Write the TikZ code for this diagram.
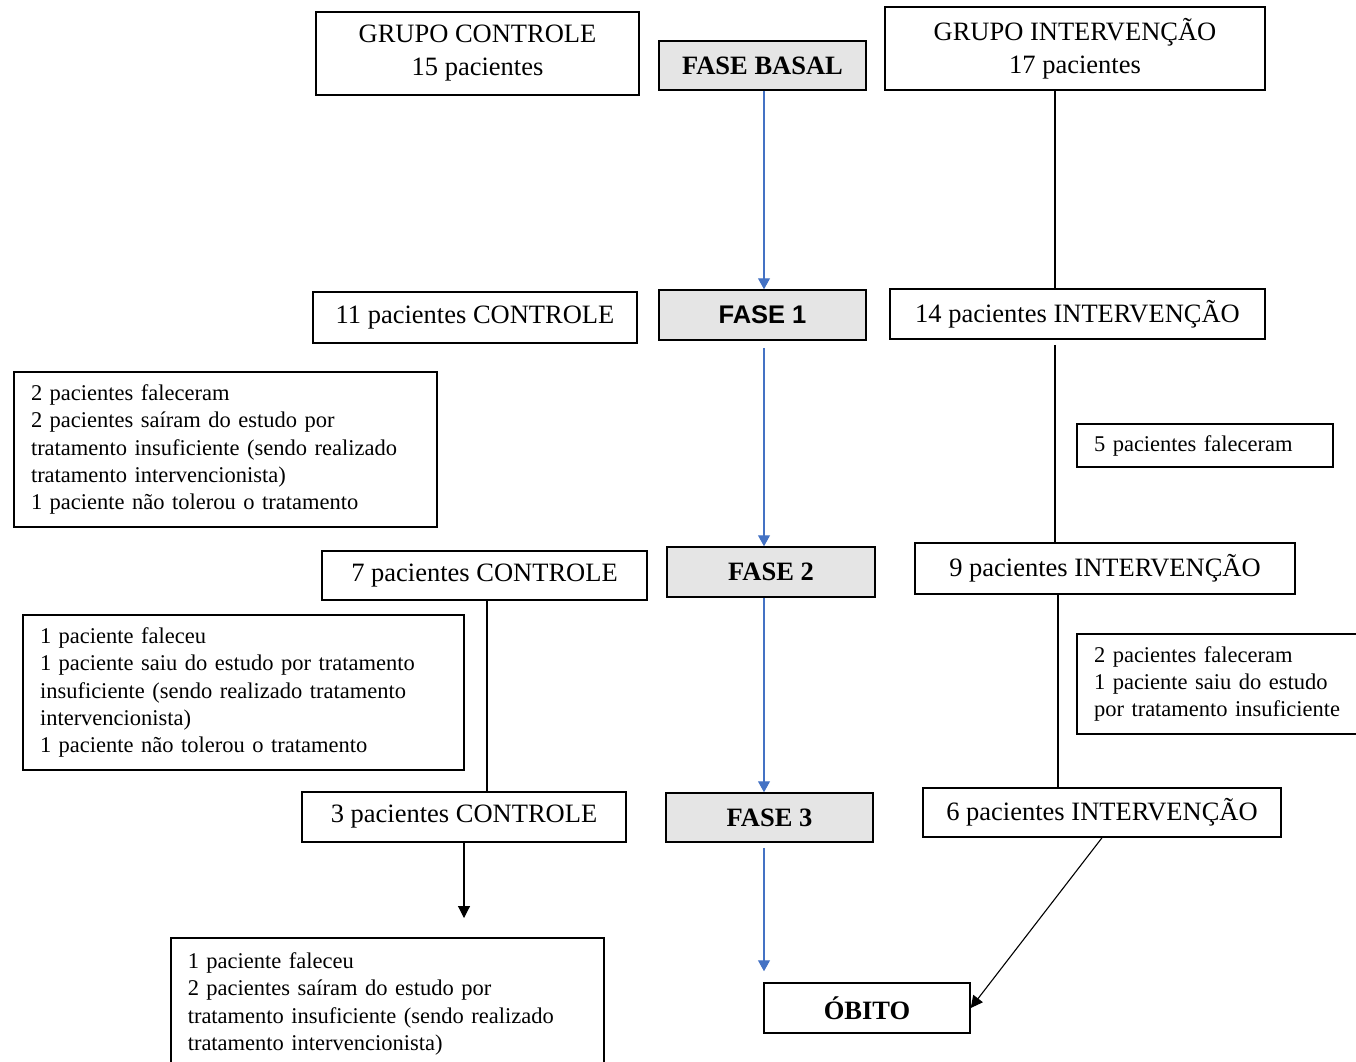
\documentclass[tikz,border=0pt]{standalone}
\usepackage{fontspec}
\setmainfont{Liberation Serif}
\newfontfamily\arialfont{Liberation Sans}
\usepackage{tikz}
\usetikzlibrary{calc}
\usetikzlibrary{arrows.meta}
\definecolor{setaazul}{HTML}{4472C4}
\newcommand{\txtgrande}{\fontsize{26.5}{33}\selectfont}
\newcommand{\txtnota}{\fontsize{22.5}{27.4}\selectfont}
\tikzstyle{caixa}=[draw, line width=1.5pt, inner sep=0pt, font=\txtgrande]
\tikzstyle{fase}=[caixa, fill=black!10, font=\txtgrande\bfseries]
\tikzstyle{nota}=[draw, line width=1.5pt, inner xsep=17pt, inner ysep=0pt, align=left, font=\txtnota]
\tikzstyle{azul}=[draw=setaazul, line width=1.1pt, -{Triangle[width=12pt,length=11pt]}]
\tikzstyle{preta}=[line width=1.5pt]
\tikzstyle{pretaseta}=[line width=1.1pt, -{Triangle[width=12pt,length=12pt]}]

\begin{document}
\begin{tikzpicture}[x=1pt, y=-1pt]
                \useasboundingbox (0,0) rectangle (1356,1061);
                \clip (0,0) rectangle (1356,1061);

                % coluna do meio
                \node[fase, minimum width=207pt, minimum height=49pt] (basal) at (762.5,65.5) {FASE BASAL};
                \node[fase, minimum width=207pt, minimum height=50pt, font=\arialfont\fontsize{25.5}{30}\selectfont\bfseries] (fase1) at (762.5,315) {FASE 1};
                \node[fase, minimum width=208pt, minimum height=50pt] (fase2) at (771,572) {FASE 2};
                \node[fase, minimum width=207pt, minimum height=49pt] (fase3) at (769.5,817.5) {FASE 3};
                \node[caixa, minimum width=206pt, minimum height=50pt, font=\txtgrande\bfseries] (obito) at (867,1008) {ÓBITO};

                % grupo controle
                \node[caixa, minimum width=323pt, minimum height=83pt, align=center] (grupoC) at (477.5,53.5) {GRUPO CONTROLE\\15 pacientes};
                \node[caixa, minimum width=324pt, minimum height=51pt] (c1) at (475,317.5) {11 pacientes CONTROLE};
                \node[caixa, minimum width=325pt, minimum height=49pt] (c2) at (484.5,575.5) {7 pacientes CONTROLE};
                \node[caixa, minimum width=324pt, minimum height=50pt] (c3) at (464,817) {3 pacientes CONTROLE};

                \node[nota, text width=389pt, minimum height=155pt] (notaC1) at (225.5,449.5) {2 pacientes faleceram\\2 pacientes saíram do estudo por\\tratamento insuficiente (sendo realizado\\tratamento intervencionista)\\1 paciente não tolerou o tratamento};
                \node[nota, text width=407pt, minimum height=155pt] (notaC2) at (243.5,692.5) {1 paciente faleceu\\1 paciente saiu do estudo por tratamento\\insuficiente (sendo realizado tratamento\\intervencionista)\\1 paciente não tolerou o tratamento};
                \node[nota, text width=399pt, minimum height=155pt, anchor=north west] (notaC3) at (170,937) {1 paciente faleceu\\2 pacientes saíram do estudo por\\tratamento insuficiente (sendo realizado\\tratamento intervencionista)\\\mbox{}};

                % grupo intervencao
                \node[caixa, minimum width=380pt, minimum height=83pt, align=center] (grupoI) at (1075,48.5) {GRUPO INTERVENÇÃO\\17 pacientes};
                \node[caixa, minimum width=375pt, minimum height=50pt] (i1) at (1077.5,314) {14 pacientes INTERVENÇÃO};
                \node[caixa, minimum width=380pt, minimum height=51pt] (i2) at (1105,568.5) {9 pacientes INTERVENÇÃO};
                \node[caixa, minimum width=358pt, minimum height=49pt] (i3) at (1102,812.5) {6 pacientes INTERVENÇÃO};

                \node[nota, text width=222pt, minimum height=43pt] (notaI1) at (1205,445.5) {5 pacientes faleceram};
                \node[nota, text width=269pt, minimum height=100pt] (notaI2) at (1228.5,684) {2 pacientes faleceram\\1 paciente saiu do estudo\\por tratamento insuficiente};

                % linhas
                \coordinate (xm) at (764,0);
                \coordinate (xi) at (1055,0);
                \coordinate (xj) at (1058,0);
                \coordinate (xc) at (487,0);
                \coordinate (fimC) at (464,918);

                \draw[azul] (basal.south -| xm) -- (fase1.north -| xm);
                \draw[azul, shorten <=7pt] (fase1.south -| xm) -- (fase2.north -| xm);
                \draw[azul] (fase2.south -| xm) -- (fase3.north -| xm);
                \draw[azul, shorten <=5pt, shorten >=11pt] (fase3.south -| xm) -- (obito.north -| xm);

                \draw[preta] (grupoI.south -| xi) -- (i1.north -| xi);
                \draw[preta, shorten <=5pt] (i1.south -| xi) -- (i2.north -| xi);
                \draw[preta] (i2.south -| xj) -- (i3.north -| xj);
                \draw[preta] (c2.south -| xc) -- (c3.north -| xc);
                \draw[pretaseta] (c3.south) -- (fimC);
                \draw[pretaseta] (i3.south) -- (obito.east);
            \end{tikzpicture}
\end{document}
